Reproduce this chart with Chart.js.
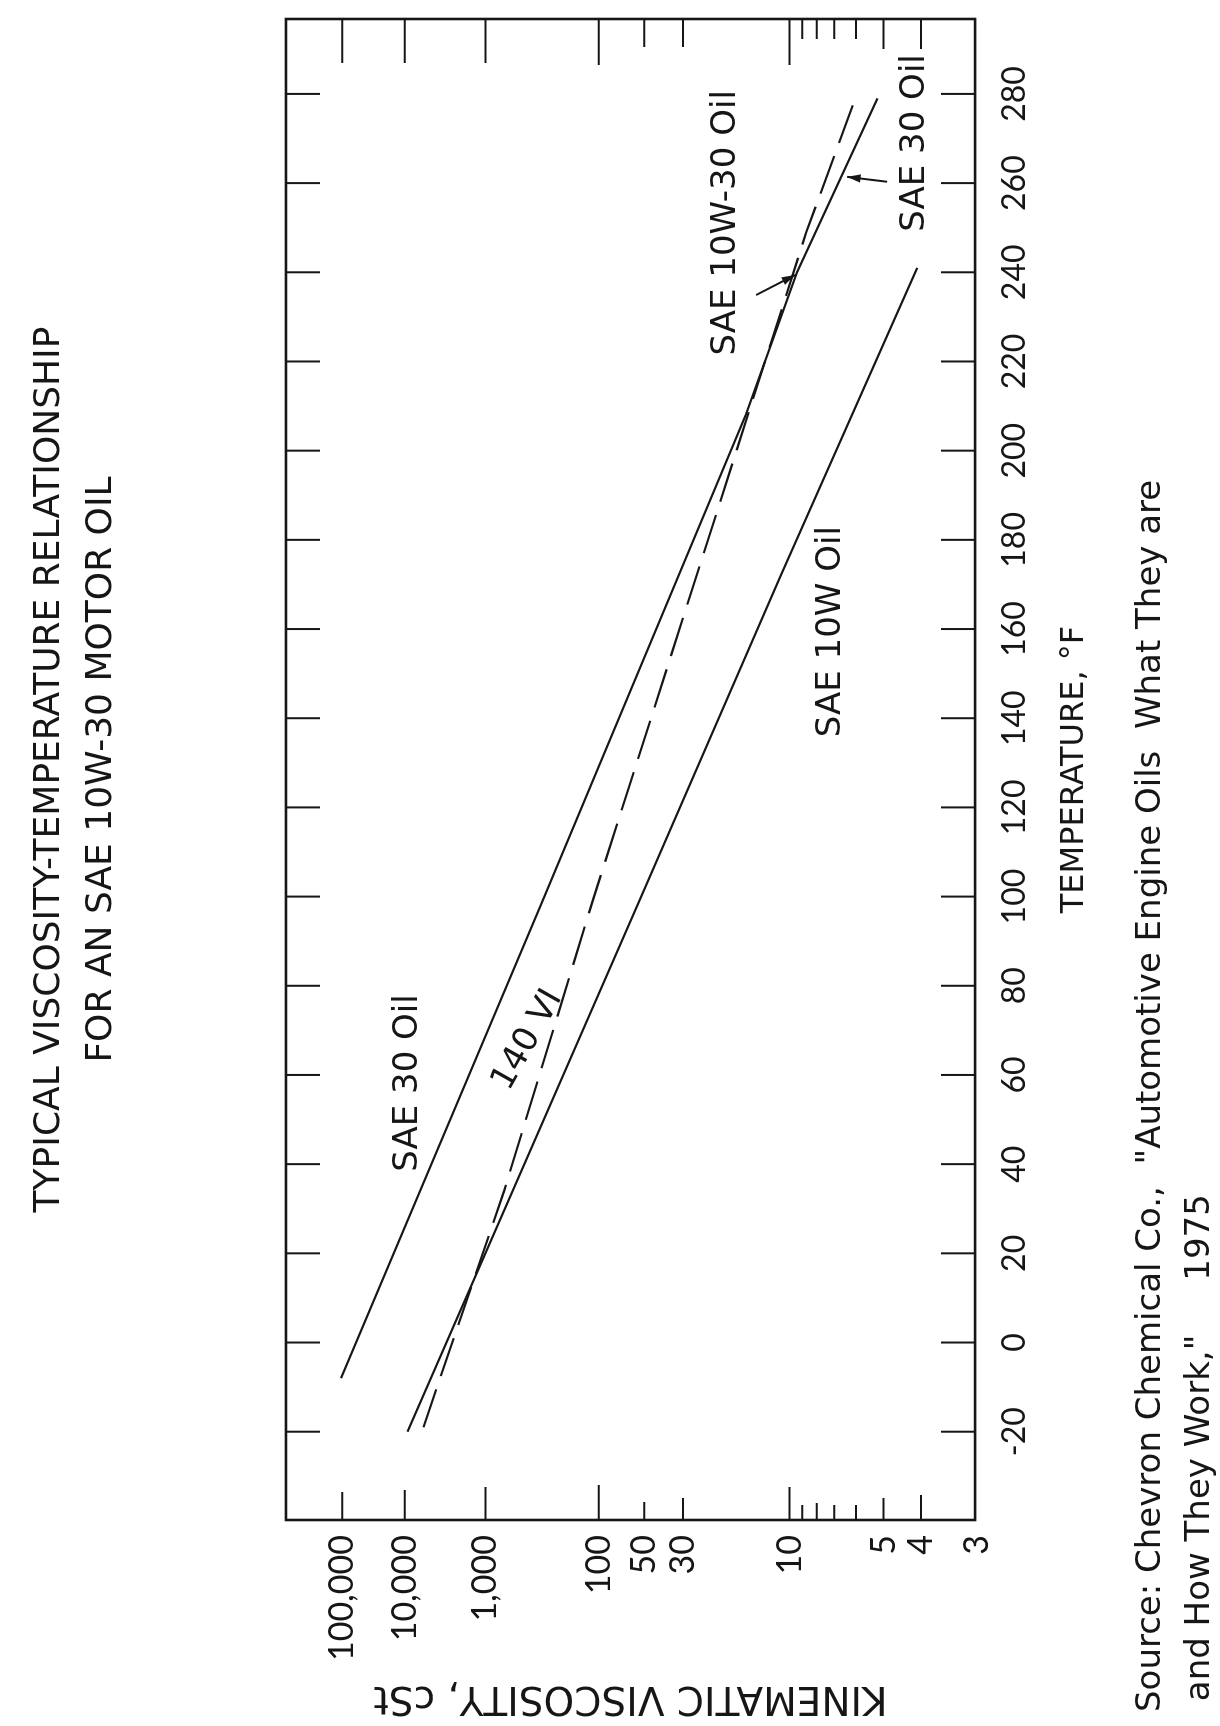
<!DOCTYPE html>
<html><head><meta charset="utf-8">
<script src="https://cdn.jsdelivr.net/npm/chart.js@4.4.1/dist/chart.umd.min.js"></script>
<style>
html,body{margin:0;padding:0;background:#fff;overflow:hidden;width:1220px;height:1726px;}
#wrap{position:absolute;left:0;top:0;width:1726px;height:1220px;transform-origin:0 0;transform:translateY(1726px) rotate(-90deg);}
canvas{display:block;}
</style></head>
<body><div id="wrap"><canvas id="c"></canvas></div>
<script>
// ---------- data ----------
const TITLE_LINES = ['TYPICAL VISCOSITY-TEMPERATURE RELATIONSHIP', 'FOR AN SAE 10W-30 MOTOR OIL'];
const SOURCE_LINES = ['Source: Chevron Chemical Co.,  "Automotive Engine Oils  What They are', ' and How They Work,"     1975'];
const X_TITLE = 'TEMPERATURE, \u00B0F';
const Y_TITLE = 'KINEMATIC VISCOSITY, cSt';

const TEMP_TICKS = [-20, 0, 20, 40, 60, 80, 100, 120, 140, 160, 180, 200, 220, 240, 260, 280];
const VISC_TICKS = [100000, 10000, 1000, 100, 50, 30, 10, 9, 8, 7, 6, 5, 4, 3];
const VISC_TICK_LABELS = ['100,000', '10,000', '1,000', '100', '50', '30', '10', '', '', '', '', '5', '4', '3'];

const SERIES_NAMES = ['SAE 30 Oil', 'SAE 10W Oil', 'SAE 10W-30 Oil'];
const SAE30_TEMP = [-8, 99, 208, 240, 279];
const SAE30_VISC = [106000, 280, 15.0, 9.4, 5.2];
const SAE10W_TEMP = [-20, 99, 172, 241];
const SAE10W_VISC = [9130, 53.7, 10.8, 4.09];
const SAE10W30_TEMP = [-19, -8, 34, 99, 249, 280];
const SAE10W30_VISC = [5510, 3370, 640, 111, 8.7, 5.96];

// in-plot labels: text, temperature, viscosity
const LABEL_TEXTS = ['SAE 30 Oil', '140 VI', 'SAE 10W Oil', 'SAE 10W-30 Oil', 'SAE 30 Oil'];
const LABEL_TEMPS = [58.2, 67.8, 159.4, 251.1, 269.0];
const LABEL_VISCS = [8866, 379, 7.18, 18.3, 4.13];
// arrows: tail (temp, visc) -> head (temp, visc)
const ARROW_TAIL_TEMPS = [234.9, 260.3];
const ARROW_TAIL_VISCS = [13.55, 4.89];
const ARROW_HEAD_TEMPS = [239.4, 261.4];
const ARROW_HEAD_VISCS = [9.56, 6.38];

// axis limits
const TEMP_MIN = -39.8, TEMP_MAX = 296.8;
const VISC_MIN = 3.03, VISC_MAX = 1.3e6;

// ---------- styles ----------
const INK = '#161616';
const WORD_FONT = '"DejaVu Sans", sans-serif';
const NUM_FONT = 'Lato, "DejaVu Sans", sans-serif';
const VISC_TICK_LEN_NEAR = [28, 30, 33, 35, 18, 22, 33, 15, 17, 15, 15, 22, 25, 0];
const VISC_TICK_LEN_FAR = [44, 44, 44, 46, 28, 28, 46, 20, 20, 20, 20, 30, 30, 0];
const TEMP_TICK_LEN = 34;

// ---------- double-log viscosity scale (ASTM-style chart paper) ----------
const VISC_OFFSET = 0.3;
const dbl = v => Math.log10(Math.log10(v + VISC_OFFSET));
const dblInv = a => Math.pow(10, Math.pow(10, a)) - VISC_OFFSET;

class ViscosityScale extends Chart.Scale {
  determineDataLimits() { this.min = this.options.min; this.max = this.options.max; }
  buildTicks() { return VISC_TICKS.map(v => ({value: v})); }
  configure() { super.configure(); this._a0 = dbl(this.min); this._a1 = dbl(this.max); }
  getPixelForValue(value) { return this.getPixelForDecimal((dbl(value) - this._a0) / (this._a1 - this._a0)); }
  getValueForPixel(pixel) { return dblInv(this._a0 + this.getDecimalForPixel(pixel) * (this._a1 - this._a0)); }
  getLabelForValue(v) { return String(v); }
}
ViscosityScale.id = 'viscosity';
ViscosityScale.defaults = {};
Chart.register(ViscosityScale);

const pts = (ts, vs) => ts.map((t, i) => ({x: t, y: vs[i]}));

const framePlugin = {
  id: 'framePlugin',
  afterDatasetsDraw(chart) {
    const ctx = chart.ctx, a = chart.chartArea;
    const xs = chart.scales.x, ys = chart.scales.y;
    ctx.save();
    ctx.strokeStyle = INK; ctx.fillStyle = INK;
    ctx.lineWidth = 2.6;
    ctx.strokeRect(a.left, a.top, a.right - a.left, a.bottom - a.top);
    ctx.lineWidth = 2;
    ctx.beginPath();
    TEMP_TICKS.forEach(t => {
      const p = xs.getPixelForValue(t);
      ctx.moveTo(p, a.bottom); ctx.lineTo(p, a.bottom - TEMP_TICK_LEN);
      ctx.moveTo(p, a.top); ctx.lineTo(p, a.top + TEMP_TICK_LEN);
    });
    VISC_TICKS.forEach((v, i) => {
      const p = ys.getPixelForValue(v);
      ctx.moveTo(a.left, p); ctx.lineTo(a.left + VISC_TICK_LEN_NEAR[i], p);
      ctx.moveTo(a.right, p); ctx.lineTo(a.right - VISC_TICK_LEN_FAR[i], p);
    });
    ctx.stroke();

    // labels
    ctx.font = '34px ' + WORD_FONT;
    ctx.textAlign = 'center'; ctx.textBaseline = 'middle';
    const d = chart.getDatasetMeta(2).data;
    const lineAngle = Math.atan2(d[d.length - 1].y - d[0].y, d[d.length - 1].x - d[0].x);
    LABEL_TEXTS.forEach((txt, i) => {
      const u = xs.getPixelForValue(LABEL_TEMPS[i]);
      const v = ys.getPixelForValue(LABEL_VISCS[i]);
      ctx.save();
      ctx.translate(u, v);
      if (txt === '140 VI') ctx.rotate(lineAngle + 0.2);
      ctx.fillText(txt, 0, 0);
      ctx.restore();
    });
    // arrows
    ctx.lineWidth = 2;
    ARROW_TAIL_TEMPS.forEach((t, i) => {
      const x1 = xs.getPixelForValue(t), y1 = ys.getPixelForValue(ARROW_TAIL_VISCS[i]);
      const x2 = xs.getPixelForValue(ARROW_HEAD_TEMPS[i]), y2 = ys.getPixelForValue(ARROW_HEAD_VISCS[i]);
      const ang = Math.atan2(y2 - y1, x2 - x1);
      ctx.beginPath(); ctx.moveTo(x1, y1); ctx.lineTo(x2, y2); ctx.stroke();
      ctx.beginPath();
      ctx.moveTo(x2, y2);
      ctx.lineTo(x2 - 14 * Math.cos(ang - 0.3), y2 - 14 * Math.sin(ang - 0.3));
      ctx.lineTo(x2 - 14 * Math.cos(ang + 0.3), y2 - 14 * Math.sin(ang + 0.3));
      ctx.closePath(); ctx.fill();
    });
    ctx.restore();
  }
};

const lineStyle = {borderColor: INK, borderWidth: 2.2, pointRadius: 0, tension: 0, fill: false};

new Chart(document.getElementById('c'), {
  type: 'line',
  data: {
    datasets: [
      Object.assign({label: SERIES_NAMES[0], data: pts(SAE30_TEMP, SAE30_VISC)}, lineStyle),
      Object.assign({label: SERIES_NAMES[1], data: pts(SAE10W_TEMP, SAE10W_VISC)}, lineStyle),
      Object.assign({label: SERIES_NAMES[2], data: pts(SAE10W30_TEMP, SAE10W30_VISC), borderDash: [40, 14]}, lineStyle)
    ]
  },
  options: {
    responsive: true,
    maintainAspectRatio: false,
    animation: false,
    events: [],
    layout: {padding: {left: 14, right: 19, top: 0, bottom: 0}},
    plugins: {
      legend: {display: false},
      tooltip: {enabled: false},
      title: {
        display: true, text: TITLE_LINES, fullSize: false, color: INK,
        font: {family: WORD_FONT, size: 36, weight: 'normal', lineHeight: 1.444},
        padding: {top: 24, bottom: 158}
      },
      subtitle: {
        display: true, text: SOURCE_LINES, position: 'bottom', align: 'start', fullSize: true, color: INK,
        font: {family: WORD_FONT, size: 34, weight: 'normal', lineHeight: 1.44},
        padding: {top: 31.5, bottom: -4.5}
      }
    },
    scales: {
      x: {
        type: 'linear', min: TEMP_MIN, max: TEMP_MAX,
        afterBuildTicks: s => { s.ticks = TEMP_TICKS.map(v => ({value: v})); },
        afterFit: s => { s.height = 120; },
        grid: {display: false, drawTicks: false},
        border: {display: false},
        ticks: {color: INK, font: {family: NUM_FONT, size: 32}, padding: 20, maxRotation: 0, autoSkip: false,
                callback: v => String(v)},
        title: {display: true, text: X_TITLE, color: INK, font: {family: WORD_FONT, size: 32, lineHeight: 1.2},
                padding: {top: 0, bottom: 1.4}}
      },
      y: {
        type: 'viscosity', min: VISC_MIN, max: VISC_MAX,
        afterFit: s => { s.width = 192; },
        grid: {display: false, drawTicks: false},
        border: {display: false},
        ticks: {color: INK, font: {family: NUM_FONT, size: 34}, padding: 15, autoSkip: false,
                callback: (v) => VISC_TICK_LABELS[VISC_TICKS.indexOf(v)]},
        title: {display: true, text: Y_TITLE, color: INK, font: {family: WORD_FONT, size: 39, lineHeight: 0.8},
                padding: {top: -1, bottom: 0}}
      }
    }
  },
  plugins: [framePlugin]
});
</script>
</body></html>
